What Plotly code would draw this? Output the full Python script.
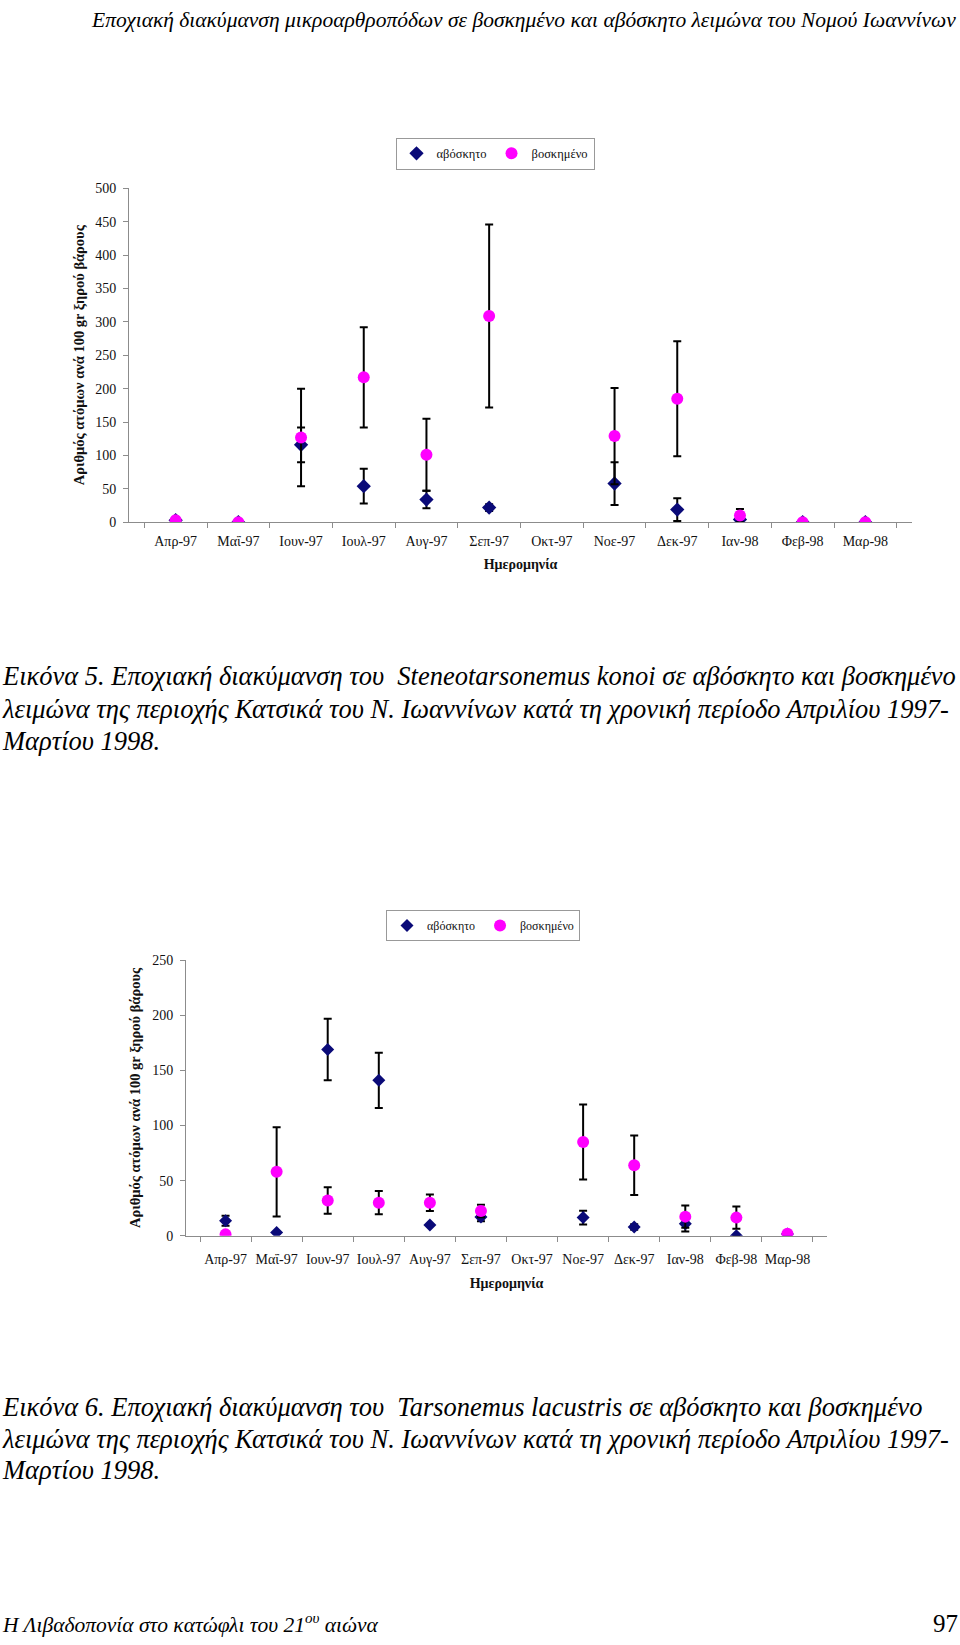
import plotly.graph_objects as go

months = ["Απρ-97", "Μαΐ-97", "Ιουν-97", "Ιουλ-97", "Αυγ-97", "Σεπ-97",
          "Οκτ-97", "Νοε-97", "Δεκ-97", "Ιαν-98", "Φεβ-98", "Μαρ-98"]

# Εικόνα 5 - Steneotarsonemus konoi
konoi_ungrazed = [3, 0, 116, 54, 34, 22, None, 58, 19, 4, 0, 0]
konoi_ungrazed_err = [0, 0, 26, 26, 13, 5, 0, 32, 17, 3, 0, 0]
konoi_grazed = [3, 0, 127, 217, 101, 309, None, 129, 185, 10, 0, 0]
konoi_grazed_err = [0, 0, 73, 75, 54, 137, 0, 72, 86, 10, 0, 0]

# Εικόνα 6 - Tarsonemus lacustris
lac_ungrazed = [13.5, 3, 169, 141, 9.6, 17, None, 16.4, 7.8, 10.8, 0, 1.5]
lac_ungrazed_err = [4.5, 0, 28, 25, 0, 4, 0, 6.3, 2.5, 7, 0, 0]
lac_grazed = [1.2, 58, 32, 30, 30, 22.4, None, 85, 64, 17.3, 16.4, 1.8]
lac_grazed_err = [0, 40.5, 12, 10.5, 7.5, 5.7, 0, 34, 27, 10, 10.2, 0]

W, H = 960, 1645
SERIF = "Liberation Serif"
NAVY = "#0a0a78"
PINK = "#ff00ff"
AXIS = "#8c8c8c"


def px(x):
    return x / W


def py(y):
    return 1 - y / H


def add_pair(fig, ung, ung_err, gr, gr_err, xa, ya, legend, sizes):
    fig.add_trace(go.Scatter(
        x=months, y=ung, mode="markers", name="αβόσκητο",
        xaxis=xa, yaxis=ya, legend=legend,
        marker=dict(symbol="diamond", color=NAVY, size=sizes[0]),
        error_y=dict(type="data", array=ung_err, color="black", thickness=2, width=4),
    ))
    fig.add_trace(go.Scatter(
        x=months, y=gr, mode="markers", name="βοσκημένο",
        xaxis=xa, yaxis=ya, legend=legend,
        marker=dict(symbol="circle", color=PINK, size=sizes[1]),
        error_y=dict(type="data", array=gr_err, color="black", thickness=2, width=4),
    ))


fig = go.Figure()
add_pair(fig, konoi_ungrazed, konoi_ungrazed_err, konoi_grazed, konoi_grazed_err,
         "x", "y", "legend", (11, 12))
add_pair(fig, lac_ungrazed, lac_ungrazed_err, lac_grazed, lac_grazed_err,
         "x2", "y2", "legend2", (10, 12))

common_x = dict(type="category", categoryorder="array", categoryarray=months,
                showline=True, linecolor=AXIS, linewidth=1, showgrid=False,
                ticks="outside", tickson="boundaries", tickcolor=AXIS, ticklen=5,
                zeroline=False, tickangle=0)
common_y = dict(showline=True, linecolor=AXIS, linewidth=1, showgrid=False,
                ticks="outside", tickcolor=AXIS, ticklen=5, zeroline=False,
                ticklabelstandoff=4)

fig.update_layout(
    width=W, height=H, autosize=False,
    margin=dict(l=0, r=0, t=0, b=0),
    paper_bgcolor="white", plot_bgcolor="white",
    font=dict(family=SERIF, color="#111111"),
    xaxis=dict(common_x, domain=[px(129), px(912)], anchor="y",
               tickfont=dict(size=14), ticklabelstandoff=6,
               title=dict(text="<b>Ημερομηνία</b>", font=dict(size=14), standoff=11)),
    yaxis=dict(common_y, domain=[py(520), py(183)], anchor="x", range=[0, 500],
               dtick=50, tickfont=dict(size=14),
               title=dict(text="<b>Αριθμός ατόμων ανά 100 gr ξηρού βάρους</b>",
                          font=dict(size=14.5), standoff=7)),
    xaxis2=dict(common_x, domain=[px(186), px(827)], anchor="y2",
                tickfont=dict(size=14), ticklabelstandoff=11,
                title=dict(text="<b>Ημερομηνία</b>", font=dict(size=14), standoff=11)),
    yaxis2=dict(common_y, domain=[py(1240), py(962)], anchor="x2", range=[0, 250],
                dtick=50, tickfont=dict(size=14),
                title=dict(text="<b>Αριθμός ατόμων ανά 100 gr ξηρού βάρους</b>",
                           font=dict(size=14.5), standoff=8)),
    legend=dict(orientation="h", x=px(495), y=py(148), xanchor="center", yanchor="middle",
                bordercolor="#999999", borderwidth=1, font=dict(size=12.5),
                itemwidth=30, tracegroupgap=0),
    legend2=dict(orientation="h", x=px(483), y=py(927), xanchor="center", yanchor="middle",
                 bordercolor="#999999", borderwidth=1, font=dict(size=12),
                 itemwidth=30, tracegroupgap=0),
)

texts = [
    ("Εποχιακή διακύμανση μικροαρθροπόδων σε βοσκημένο και αβόσκητο λειμώνα του Νομού Ιωαννίνων",
     89, 13, 21.5),
    ("Εικόνα 5. Εποχιακή διακύμανση του  Steneotarsonemus konoi σε αβόσκητο και βοσκημένο",
     0, 675, 26.5),
    ("λειμώνα της περιοχής Κατσικά του Ν. Ιωαννίνων κατά τη χρονική περίοδο Απριλίου 1997-",
     0, 708, 26.5),
    ("Μαρτίου 1998.", 0, 741, 26.5),
    ("Εικόνα 6. Εποχιακή διακύμανση του  Tarsonemus lacustris σε αβόσκητο και βοσκημένο",
     0, 1413, 26.5),
    ("λειμώνα της περιοχής Κατσικά του Ν. Ιωαννίνων κατά τη χρονική περίοδο Απριλίου 1997-",
     0, 1445, 26.5),
    ("Μαρτίου 1998.", 0, 1476, 26.5),
    ("Η Λιβαδοπονία στο κατώφλι του 21<sup>ου</sup> αιώνα", 0, 1631, 21.5),
]
for t, x, y, s in texts:
    fig.add_annotation(text=t, x=px(x), y=py(y), xref="paper", yref="paper",
                       xanchor="left", yanchor="middle", showarrow=False,
                       font=dict(size=s, family=SERIF, color="black", style="italic"))
fig.add_annotation(text="97", x=px(960), y=py(1631), xref="paper", yref="paper",
                   xanchor="right", yanchor="middle", showarrow=False,
                   font=dict(size=25, family=SERIF, color="black"))

fig.write_html("out.html", config={"displayModeBar": False},
               post_script="document.body.style.margin='0';")
